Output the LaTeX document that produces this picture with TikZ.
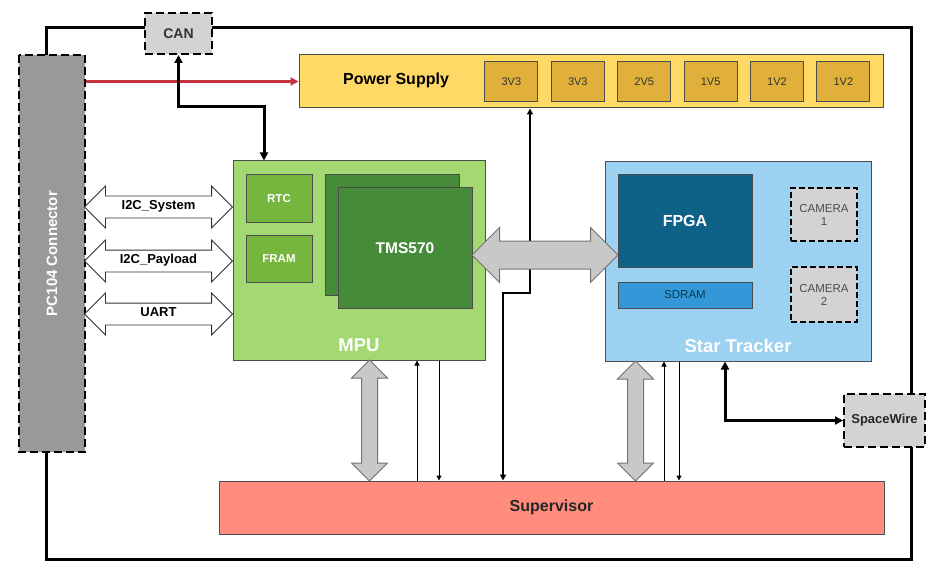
\documentclass[tikz,border=0pt]{standalone}
\usepackage{fontspec}
\setmainfont{Liberation Sans}
\usetikzlibrary{arrows.meta,positioning,calc,shapes.arrows}

\definecolor{pcgray}{HTML}{999999}
\definecolor{lightgray}{HTML}{D3D3D3}
\definecolor{psuyellow}{HTML}{FFD966}
\definecolor{railgold}{HTML}{E0B03A}
\definecolor{mpugreen}{HTML}{A4D872}
\definecolor{memgreen}{HTML}{76B53E}
\definecolor{cpugreen}{HTML}{468B3A}
\definecolor{starblue}{HTML}{9DD1F2}
\definecolor{fpgablue}{HTML}{0E6287}
\definecolor{ramblue}{HTML}{3498D8}
\definecolor{supred}{HTML}{FF8C7D}
\definecolor{pwrred}{HTML}{C8303F}
\definecolor{busgray}{HTML}{C8C8C8}

\tikzset{
  box/.style={draw=black!70, line width=1pt, inner sep=0pt},
  dashbox/.style={draw=black, line width=2pt, dash pattern=on 8pt off 4pt, inner sep=0pt},
  railbox/.style={box, fill=railgold, minimum width=53pt, minimum height=40pt,
    font=\fontsize{11}{13}\selectfont, text=black!80},
  whitetitle/.style={text=white, font=\bfseries\fontsize{#1}{#1}\selectfont},
  busarrow/.style={double arrow, draw=black!80, fill=white, line width=0.8pt,
    double arrow tip angle=90, double arrow head extend=10pt,
    inner xsep=0pt, inner ysep=6pt, text height=7pt, text depth=2pt,
    minimum height=148pt, font=\bfseries\fontsize{13}{15}\selectfont},
  grayarrow/.style={double arrow, draw=black!55, fill=busgray, line width=1pt,
    double arrow tip angle=90},
  tip/.style={-{Triangle[length=#1,width=#1]}},
  bothtips/.style={{Triangle[length=#1,width=#1]}-{Triangle[length=#1,width=#1]}},
  board/.style={draw=black, line width=3pt},
  sig/.style={draw=black, line width=1pt},
}

\begin{document}
\begin{tikzpicture}[x=1pt, y=-1pt]
  \useasboundingbox (0,0) rectangle (939,580);

  % board outline
  \draw[board] (46,28) rectangle (911,559);

  % connectors on the board edge
  \node (pc104) [dashbox, fill=pcgray, rotate=90, minimum width=397pt, minimum height=66pt,
    whitetitle=15] at (52,253.5) {PC104 Connector};
  \node (can) [dashbox, fill=lightgray, minimum width=67pt, minimum height=41pt,
    font=\bfseries\fontsize{14}{16}\selectfont, text=black!80] at (178.5,33.5) {CAN};
  \node (spw) [dashbox, fill=lightgray, minimum width=81pt, minimum height=53pt,
    font=\bfseries\fontsize{13}{15}\selectfont, text=black!85] at (884.5,420.5) {SpaceWire};

  % power supply
  \node (psu) [box, fill=psuyellow, minimum width=584pt, minimum height=53pt] at (591,81.5) {};
  \node (psulabel) [font=\bfseries\fontsize{16}{18}\selectfont] at (396,80) {Power Supply};
  \foreach \v [count=\i] in {3V3,3V3,2V5,1V5,1V2,1V2}
    \node (v\i) [railbox] at (445+66.4*\i,82) {\v};

  % MPU
  \node (mpu) [box, fill=mpugreen, minimum width=252pt, minimum height=199pt] at (359,260.5) {};
  \node (mpulabel) [whitetitle=18.5, above=5pt of mpu.south] {MPU};
  \node (rtc) [box, fill=memgreen, minimum width=66pt, minimum height=47pt, whitetitle=11.5] at (279,198.5) {RTC};
  \node (fram) [box, fill=memgreen, minimum width=66pt, minimum height=47pt, whitetitle=11.5] at (279,258.5) {FRAM};
  \node (tmsback) [box, fill=cpugreen, minimum width=134pt, minimum height=120pt] at (392,235) {};
  \node (tms) [box, fill=cpugreen, minimum width=134pt, minimum height=120pt, whitetitle=15.5] at (405,248) {TMS570};

  % star tracker
  \node (star) [box, fill=starblue, minimum width=266pt, minimum height=199pt] at (738,261.5) {};
  \node (starlabel) [whitetitle=18.5, above=5pt of star.south] {Star Tracker};
  \node (fpga) [box, fill=fpgablue, minimum width=134pt, minimum height=92pt, whitetitle=16] at (685,221) {FPGA};
  \node (sdram) [box, fill=ramblue, minimum width=134pt, minimum height=26pt,
    font=\fontsize{11.5}{13}\selectfont, text=fpgablue!60!black] at (685,295) {SDRAM};
  \node (cam1) [dashbox, line width=1.2pt, dash pattern=on 6pt off 3pt, fill=lightgray,
    minimum width=66pt, minimum height=53pt, align=center,
    font=\fontsize{11.5}{13}\selectfont, text=black!70] at (824,214.5) {CAMERA\\1};
  \node (cam2) [dashbox, line width=1.2pt, dash pattern=on 6pt off 3pt, fill=lightgray,
    minimum width=66pt, minimum height=55pt, align=center,
    font=\fontsize{11.5}{13}\selectfont, text=black!70] at (824,294.5) {CAMERA\\2};

  % supervisor
  \node (sup) [box, fill=supred, minimum width=665pt, minimum height=53pt,
    font=\bfseries\fontsize{16}{18}\selectfont, text=black!85] at (551.5,507.5) {Supervisor};

  % power and control lines
  \draw[pwrred, line width=2.5pt, tip=8pt] (pc104.south |- psu.west) -- (psu.west);
  \coordinate (canbend) at (264,107);
  \draw[line width=3pt, bothtips=8pt] (can.south) |- (canbend) -- (canbend |- mpu.north);
  \coordinate (pwrbend) at (530,293);
  \draw[line width=2pt, bothtips=6pt] ([xshift=-48.5pt]sup.north) |- (pwrbend) -- (pwrbend |- psu.south);
  \draw[sig, tip=5pt] ([xshift=58pt]mpu.south |- sup.north) -- ([xshift=58pt]mpu.south);
  \draw[sig, tip=5pt] ([xshift=80pt]mpu.south) -- ([xshift=80pt]mpu.south |- sup.north);
  \draw[sig, tip=5pt] ([xshift=-74pt]star.south |- sup.north) -- ([xshift=-74pt]star.south);
  \draw[sig, tip=5pt] ([xshift=-59pt]star.south) -- ([xshift=-59pt]star.south |- sup.north);
  \draw[line width=3pt, bothtips=8pt] ([xshift=-13pt]star.south) |- (spw.west);

  % buses
  \node (i2csys) [busarrow] at (158.5,207) {I2C\_System};
  \node (i2cpay) [busarrow] at (158.5,261) {I2C\_Payload};
  \node (uart) [busarrow] at (158.5,314) {UART};
  \node (cpubus) [grayarrow, double arrow head extend=13.5pt, inner sep=13.5pt, minimum height=146pt]
    at (545,255) {};
  \node (mpusup) [grayarrow, rotate=90, double arrow head extend=10pt, inner sep=7.5pt, minimum height=121pt]
    at (369.5,420.5) {};
  \node (starsup) [grayarrow, rotate=90, double arrow head extend=10pt, inner sep=7.5pt, minimum height=120pt]
    at (635.5,421) {};
\end{tikzpicture}
\end{document}
